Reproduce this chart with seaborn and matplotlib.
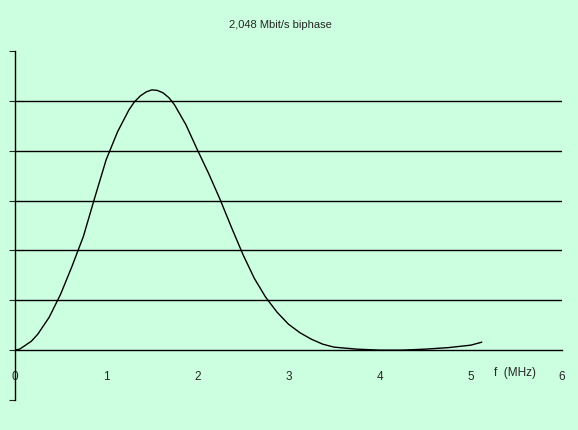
import numpy as np
import pandas as pd
import matplotlib.pyplot as plt
import seaborn as sns

# spectrum (f in MHz, relative power)
freq = [0, 0.05, 0.1, 0.18, 0.25, 0.375, 0.5, 0.625, 0.75, 0.875, 1.0, 1.125, 1.25,
        1.31, 1.375, 1.44, 1.5, 1.56, 1.625, 1.69, 1.75, 1.875, 2.0, 2.125, 2.25,
        2.375, 2.5, 2.625, 2.75, 2.875, 3.0, 3.125, 3.25, 3.375, 3.5, 3.75, 4.0,
        4.25, 4.5, 4.75, 5.0, 5.12]
power = [0, 0.02, 0.08, 0.18, 0.32, 0.66, 1.12, 1.68, 2.28, 3.06, 3.82, 4.38, 4.82,
         4.98, 5.1, 5.18, 5.22, 5.21, 5.16, 5.06, 4.92, 4.52, 4.02, 3.54, 3.02,
         2.46, 1.92, 1.44, 1.06, 0.76, 0.52, 0.35, 0.22, 0.12, 0.06, 0.02, 0.0,
         0.0, 0.02, 0.05, 0.1, 0.16]
xticks = [0, 1, 2, 3, 4, 5, 6]

df = pd.DataFrame({"f": freq, "p": power})

sns.set_style("white")
plt.rcParams['font.family'] = ['Liberation Sans', 'DejaVu Sans']
bg = "#ccffe0"
fig = plt.figure(figsize=(5.78, 4.31), dpi=100, facecolor=bg)
ax = fig.add_axes([15/578, 30/431, 547/578, 349/431], facecolor=bg)

sns.lineplot(data=df, x="f", y="p", color="black", linewidth=1, ax=ax)

for y in range(1, 6):
    ax.axhline(y, color="black", linewidth=1)

ax.set_xlim(0, 6)
ax.set_ylim(-1, 6)
ax.set_xticks(xticks)
ax.set_yticks(range(-1, 7))
ax.set_yticklabels([])
ax.tick_params(axis="x", labelsize=8.5, length=4, direction="out", pad=10)
ax.tick_params(axis="y", length=4, direction="out", left=True)
ax.spines['bottom'].set_position(('data', 0))
ax.spines['top'].set_visible(False)
ax.spines['right'].set_visible(False)
for s in ['left', 'bottom']:
    ax.spines[s].set_color("black")
    ax.spines[s].set_linewidth(1)
ax.set_xlabel("")
ax.set_ylabel("")
ax.text(5.25, -0.5, "f  (MHz)", fontsize=8.5)
fig.text(280/578, 1 - 25/431, "2,048 Mbit/s biphase", fontsize=8, ha="center", va="center")

fig.savefig("out.png", dpi=100, facecolor=bg)
